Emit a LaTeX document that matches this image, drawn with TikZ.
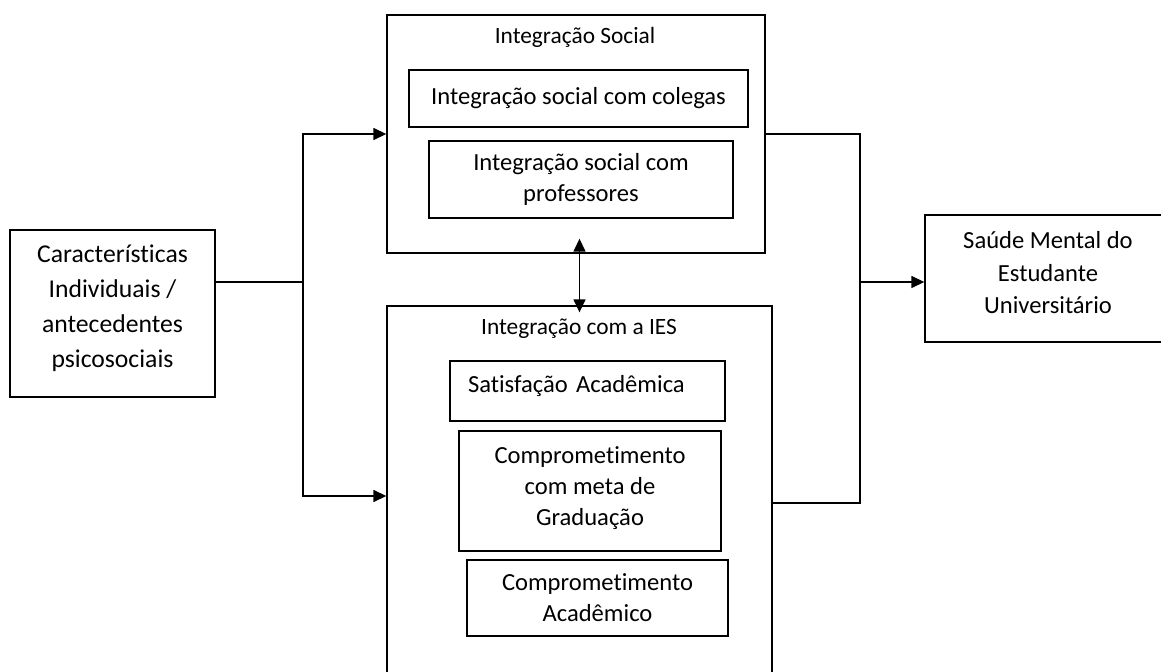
\documentclass[tikz,border=0pt]{standalone}
\usepackage{fontspec}
\setmainfont{Carlito}[Ligatures=CommonOff]
\usetikzlibrary{arrows.meta,positioning,calc}
\newcommand{\lowpad}[1]{\rule[-#1]{0pt}{0pt}}

\begin{document}
\begin{tikzpicture}[
  x=0.02cm, y=-0.02cm,
  box/.style={draw, line width=0.8pt, align=center, inner sep=0pt, font=\fontsize{14}{17.6}\selectfont},
  frame/.style={draw, line width=0.8pt, inner sep=0pt},
  head/.style={font=\fontsize{13.3}{16}\selectfont},
  conn/.style={line width=0.8pt},
  arr/.style={-{Triangle[length=0.26cm,width=0.24cm]}, line width=0.8pt},
  darr/.style={{Triangle[length=0.26cm,width=0.24cm]}-{Triangle[length=0.26cm,width=0.24cm]}, line width=0.8pt}
]
\useasboundingbox (0,0) rectangle (1161,672);

\node[box, font=\fontsize{14.6}{19.8}\selectfont, minimum width=4.1cm, minimum height=3.34cm] (indiv) at (112.5,313.5) {Características\\Individuais /\\antecedentes\\psicosociais\lowpad{0.3cm}};

\node[frame, minimum width=7.56cm, minimum height=4.76cm] (social) at (576,134) {};
\node[head] (socialhead) at (575,37) {Integração Social};
\node[box, minimum width=6.78cm, minimum height=1.14cm] (colegas) at (578.5,98.5) {Integração social com colegas};
\node[box, minimum width=6.08cm, minimum height=1.54cm] (profs) at (581,179.5) {Integração social com\\professores};

\node[frame, minimum width=7.7cm, minimum height=7.88cm] (ies) at (579.5,503) {};
\node[head] (ieshead) at (579,329) {Integração com a IES};
\node[box, align=left, text width=4.78cm, inner xsep=0.36cm, minimum height=1.2cm] (satisf) at (587.5,391) {\mbox{Satisfação Acadêmica}\lowpad{0.28cm}};
\node[box, minimum width=5.24cm, minimum height=2.4cm] (meta) at (590,491) {Comprometimento\\com meta de\\Graduação\lowpad{0.2cm}};
\node[box, minimum width=5.22cm, minimum height=1.52cm] (academ) at (597.5,598) {Comprometimento\\Acadêmico};

\node[box, font=\fontsize{14}{18.4}\selectfont, minimum width=4.92cm, minimum height=2.54cm] (saude) at (1048,278.5) {Saúde Mental do\\Estudante\\Universitário\lowpad{0.24cm}};

\coordinate (splitL) at (303,282);
\coordinate (joinR) at (860,282);

\draw[conn] (indiv.east |- splitL) -- (splitL);
\draw[arr] (splitL) |- (social.west);
\draw[arr] (splitL) |- ($(ies.west)+(0,-7)$);
\draw[conn] (social.east) -| (joinR);
\draw[conn] (ies.east) -| (joinR);
\draw[arr] (joinR) -- (saude.west |- joinR);
\draw[darr, shorten <=-0.14cm, shorten >=-0.3cm] (ies.north) -- (social.south -| ies.north);
\end{tikzpicture}
\end{document}
